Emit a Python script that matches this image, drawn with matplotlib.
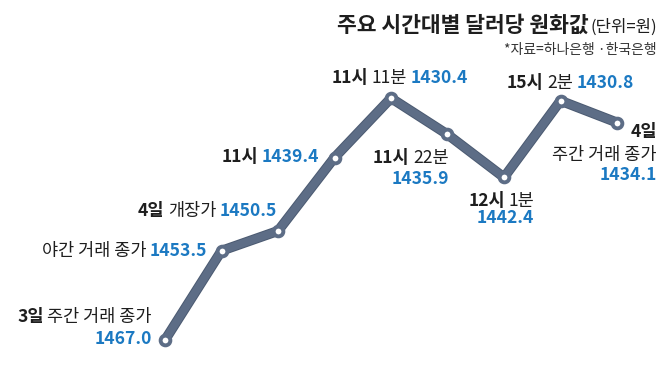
import matplotlib
matplotlib.use("Agg")
import matplotlib.pyplot as plt
from matplotlib.offsetbox import TextArea, HPacker, AnnotationBbox
import matplotlib.patheffects as pe

plt.rcParams['font.family'] = ['Noto Sans CJK KR', 'DejaVu Sans']

# ---- data ----
title_main = "주요 시간대별 달러당 원화값"
title_unit = "(단위=원)"
source = "*자료=하나은행 ·한국은행"

points = [0, 1, 2, 3, 4, 5, 6, 7, 8]
values = [1467.0, 1453.5, 1450.5, 1439.4, 1430.4, 1435.9, 1442.4, 1430.8, 1434.1]
label_bold = ["3일", "", "4일", "11시", "11시", "11시", "12시", "15시", "4일"]
label_rest = ["주간 거래 종가", "야간 거래 종가", "개장가", "", "11분", "22분", "1분", "2분", "주간 거래 종가"]

# ---- style ----
LINE = "#5d6d86"
EDGE = "#4b5a71"
BLUE = "#1b79c2"
BLACK = "#1e1e1e"
FS = 12.6

W, H = 667, 380
fig = plt.figure(figsize=(W / 100, H / 100), dpi=100)
fig.patch.set_facecolor("white")
ax = fig.add_axes([0, 0, 1, 1])
ax.axis("off")

# pixel mapping: x index i -> 165 + 56.5 i ; value v -> 340 - (1467 - v)*6.61 from top
x0, dxp = 165.0, 56.5
ax.set_xlim(-x0 / dxp, (W - x0) / dxp)
k = 6.61
ax.set_ylim(1467 + (H - 340) / k, 1467 - 340 / k)

ax.plot(points, values, color=LINE, lw=5.8, solid_joinstyle="round",
        solid_capstyle="round", zorder=2,
        path_effects=[pe.Stroke(linewidth=7.2, foreground=EDGE), pe.Normal()])
ax.plot(points, values, "o", ms=7.0, mfc="white", mec=LINE, mew=2.8, zorder=3)


def part(tok, i):
    if tok == "B":
        return TextArea(label_bold[i], textprops=dict(color=BLACK, fontsize=FS, fontweight="bold"))
    if tok == "R":
        return TextArea(label_rest[i], textprops=dict(color=BLACK, fontsize=FS))
    return TextArea(f"{values[i]:.1f}", textprops=dict(color=BLUE, fontsize=FS, fontweight="bold"))


def line(i, toks, dx, dy, ha):
    box = HPacker(children=[part(t, i) for t in toks], align="baseline", pad=0, sep=2.5)
    bx = {"right": 1.0, "center": 0.5, "left": 0.0}[ha]
    ab = AnnotationBbox(box, (points[i], values[i]), xycoords="data",
                        xybox=(dx * 0.72, -dy * 0.72), boxcoords="offset points",
                        box_alignment=(bx, 0.5), frameon=False, pad=0,
                        annotation_clip=False, zorder=4)
    ax.add_artist(ab)


line(0, ["B", "R"], -13, -23, "right")
line(0, ["V"], -13, -1, "right")
line(1, ["R", "V"], -14, 0, "right")
line(2, ["B", "R", "V"], -1, -20, "right")
line(3, ["B", "V"], -15, -1, "right")
line(4, ["B", "R", "V"], 9, -20, "center")
line(5, ["B", "R"], 1, 24, "right")
line(5, ["V"], 2, 45, "right")
line(6, ["B", "R"], 30, 24, "right")
line(6, ["V"], 30, 41, "right")
line(7, ["B", "R", "V"], 10, -18, "center")
line(8, ["B"], 40, 9, "right")
line(8, ["R"], 40, 32, "right")
line(8, ["V"], 40, 52, "right")

# title
tbox = HPacker(children=[
    TextArea(title_main, textprops=dict(color=BLACK, fontsize=15.5, fontweight="bold")),
    TextArea(title_unit, textprops=dict(color=BLACK, fontsize=12)),
], align="baseline", pad=0, sep=1)
ax.add_artist(AnnotationBbox(tbox, (657 / W, 1 - 25 / H), xycoords="figure fraction",
                             box_alignment=(1, 0.5), frameon=False, pad=0,
                             annotation_clip=False))
fig.text(657 / W, 1 - 50 / H, source, ha="right", va="center", fontsize=10, color="#333333")

fig.savefig("out.png", dpi=100, facecolor="white")
